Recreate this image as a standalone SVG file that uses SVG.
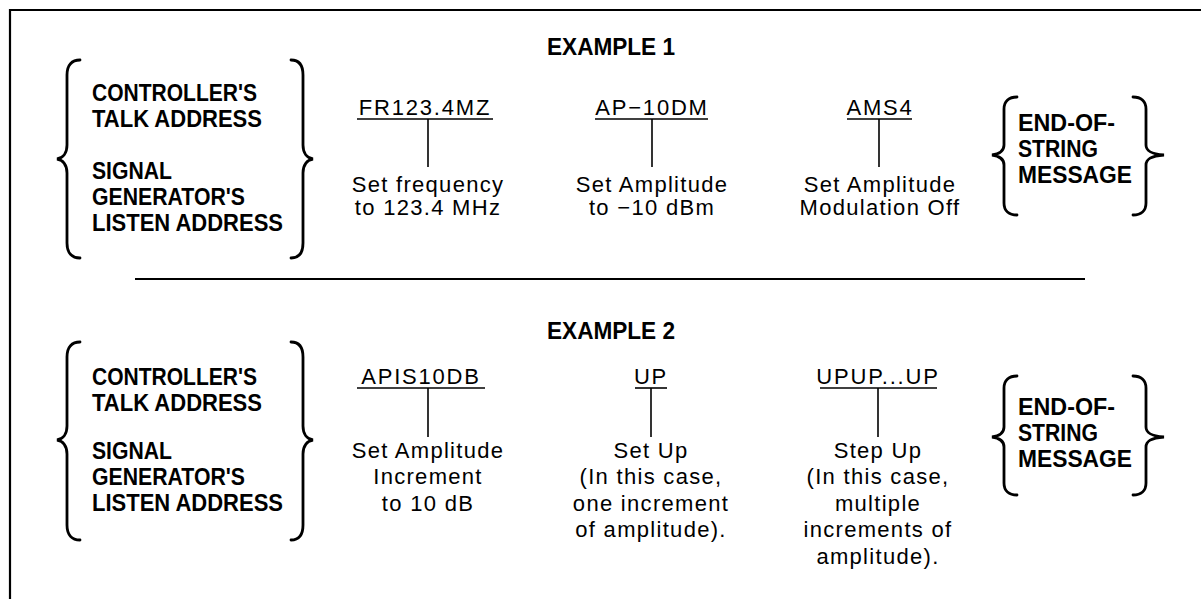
<svg xmlns="http://www.w3.org/2000/svg" width="1201" height="599" viewBox="0 0 1201 599">
<style>
.b{font-family:"Liberation Sans",Arial,sans-serif;font-weight:bold;font-size:24px;fill:#000}
.t{font-family:"Liberation Sans",Arial,sans-serif;font-size:22px;letter-spacing:1.3px;fill:#000;text-anchor:middle}
.c{font-family:"Liberation Sans",Arial,sans-serif;font-size:22px;letter-spacing:1.8px;fill:#000;text-anchor:middle}
.ln{stroke:#000;stroke-width:1.6;fill:none}
.br{stroke:#000;stroke-width:2.8;fill:none;stroke-linecap:round}
</style>
<rect width="1201" height="599" fill="#fff"/>
<path d="M10,599 L10,10 L1201,10" stroke="#000" stroke-width="2.2" fill="none"/>
<line x1="135" y1="279" x2="1085" y2="279" stroke="#000" stroke-width="2"/>

<g id="ex1-title"><text class="b" x="547" y="55" textLength="128" lengthAdjust="spacingAndGlyphs">EXAMPLE 1</text></g>

<g id="ex1-address">
<path class="br" d="M80,60 C72,60 67,65 67,75 L67,145 C67,153 63,158 57,159 C63,160 67,165 67,173 L67,243 C67,253 72,258 80,258"/>
<path class="br" d="M291,60 C299,60 303,65 303,75 L303,145 C303,153 307,158 313,159 C307,160 303,165 303,173 L303,243 C303,253 299,258 291,258"/>
<text class="b" x="92" y="101" textLength="165" lengthAdjust="spacingAndGlyphs">CONTROLLER'S</text>
<text class="b" x="92" y="127" textLength="170" lengthAdjust="spacingAndGlyphs">TALK ADDRESS</text>
<text class="b" x="92" y="179" textLength="80" lengthAdjust="spacingAndGlyphs">SIGNAL</text>
<text class="b" x="92" y="205" textLength="153" lengthAdjust="spacingAndGlyphs">GENERATOR'S</text>
<text class="b" x="92" y="231" textLength="191" lengthAdjust="spacingAndGlyphs">LISTEN ADDRESS</text>
</g>

<g id="ex1-fr">
<text class="c" x="425" y="115">FR123.4MZ</text>
<line class="ln" x1="357" y1="119" x2="493" y2="119"/>
<text class="t" x="428" y="192">Set frequency</text>
<text class="t" x="428" y="215">to 123.4 MHz</text>
</g>

<g id="ex1-ap">
<text class="c" x="652" y="115">AP−10DM</text>
<line class="ln" x1="595" y1="119" x2="708" y2="119"/>
<text class="t" x="652" y="192">Set Amplitude</text>
<text class="t" x="652" y="215">to −10 dBm</text>
</g>

<g id="ex1-ams">
<text class="c" x="880" y="115">AMS4</text>
<line class="ln" x1="847" y1="119" x2="912" y2="119"/>
<text class="t" x="880" y="192">Set Amplitude</text>
<text class="t" x="880" y="215">Modulation Off</text>
</g>

<g id="ex1-eos">
<path class="br" d="M1017,97 C1009,97 1004,101 1004,109 L1004,145 C1004,151 999,154 992,155 C999,156 1004,159 1004,165 L1004,203 C1004,211 1009,215 1017,215"/>
<path class="br" d="M1133,97 C1141,97 1146,101 1146,109 L1146,145 C1146,151 1151,154 1164,155 C1151,156 1146,159 1146,165 L1146,203 C1146,211 1141,215 1133,215"/>
<text class="b" x="1018" y="131" textLength="97" lengthAdjust="spacingAndGlyphs">END-OF-</text>
<text class="b" x="1018" y="157" textLength="80" lengthAdjust="spacingAndGlyphs">STRING</text>
<text class="b" x="1018" y="183" textLength="114" lengthAdjust="spacingAndGlyphs">MESSAGE</text>
</g>

<g id="ex2-title"><text class="b" x="547" y="339" textLength="128" lengthAdjust="spacingAndGlyphs">EXAMPLE 2</text></g>

<g id="ex2-address">
<path class="br" d="M80,342 C72,342 67,347 67,357 L67,426 C67,434 63,439 57,440 C63,441 67,446 67,454 L67,525 C67,535 72,540 80,540"/>
<path class="br" d="M291,342 C299,342 303,347 303,357 L303,426 C303,434 307,439 313,440 C307,441 303,446 303,454 L303,525 C303,535 299,540 291,540"/>
<text class="b" x="92" y="385" textLength="165" lengthAdjust="spacingAndGlyphs">CONTROLLER'S</text>
<text class="b" x="92" y="411" textLength="170" lengthAdjust="spacingAndGlyphs">TALK ADDRESS</text>
<text class="b" x="92" y="459" textLength="80" lengthAdjust="spacingAndGlyphs">SIGNAL</text>
<text class="b" x="92" y="485" textLength="153" lengthAdjust="spacingAndGlyphs">GENERATOR'S</text>
<text class="b" x="92" y="511" textLength="191" lengthAdjust="spacingAndGlyphs">LISTEN ADDRESS</text>
</g>

<g id="ex2-apis">
<text class="c" x="421" y="384">APIS10DB</text>
<line class="ln" x1="357" y1="388" x2="485" y2="388"/>
<text class="t" x="428" y="458">Set Amplitude</text>
<text class="t" x="428" y="484">Increment</text>
<text class="t" x="428" y="511">to 10 dB</text>
</g>

<g id="ex2-up">
<text class="c" x="651" y="384">UP</text>
<line class="ln" x1="635" y1="388" x2="667" y2="388"/>
<text class="t" x="651" y="458">Set Up</text>
<text class="t" x="651" y="484">(In this case,</text>
<text class="t" x="651" y="511">one increment</text>
<text class="t" x="651" y="537">of amplitude).</text>
</g>

<g id="ex2-upup">
<text class="c" x="878" y="384">UPUP...UP</text>
<line class="ln" x1="820" y1="388" x2="937" y2="388"/>
<text class="t" x="878" y="458">Step Up</text>
<text class="t" x="878" y="484">(In this case,</text>
<text class="t" x="878" y="511">multiple</text>
<text class="t" x="878" y="537">increments of</text>
<text class="t" x="878" y="564">amplitude).</text>
</g>

<g id="ex2-eos">
<path class="br" d="M1017,376 C1009,376 1004,380 1004,388 L1004,427 C1004,433 999,436 992,437 C999,438 1004,441 1004,447 L1004,483 C1004,491 1009,495 1017,495"/>
<path class="br" d="M1133,376 C1141,376 1146,380 1146,388 L1146,427 C1146,433 1151,436 1164,437 C1151,438 1146,441 1146,447 L1146,483 C1146,491 1141,495 1133,495"/>
<text class="b" x="1018" y="415" textLength="97" lengthAdjust="spacingAndGlyphs">END-OF-</text>
<text class="b" x="1018" y="441" textLength="80" lengthAdjust="spacingAndGlyphs">STRING</text>
<text class="b" x="1018" y="467" textLength="114" lengthAdjust="spacingAndGlyphs">MESSAGE</text>
</g>

<g id="connectors">
<line class="ln" x1="428" y1="119" x2="428" y2="167"/>
<line class="ln" x1="652" y1="119" x2="652" y2="167"/>
<line class="ln" x1="879" y1="119" x2="879" y2="167"/>
<line class="ln" x1="428" y1="388" x2="428" y2="437"/>
<line class="ln" x1="651" y1="388" x2="651" y2="437"/>
<line class="ln" x1="878" y1="388" x2="878" y2="437"/>
</g>
</svg>
